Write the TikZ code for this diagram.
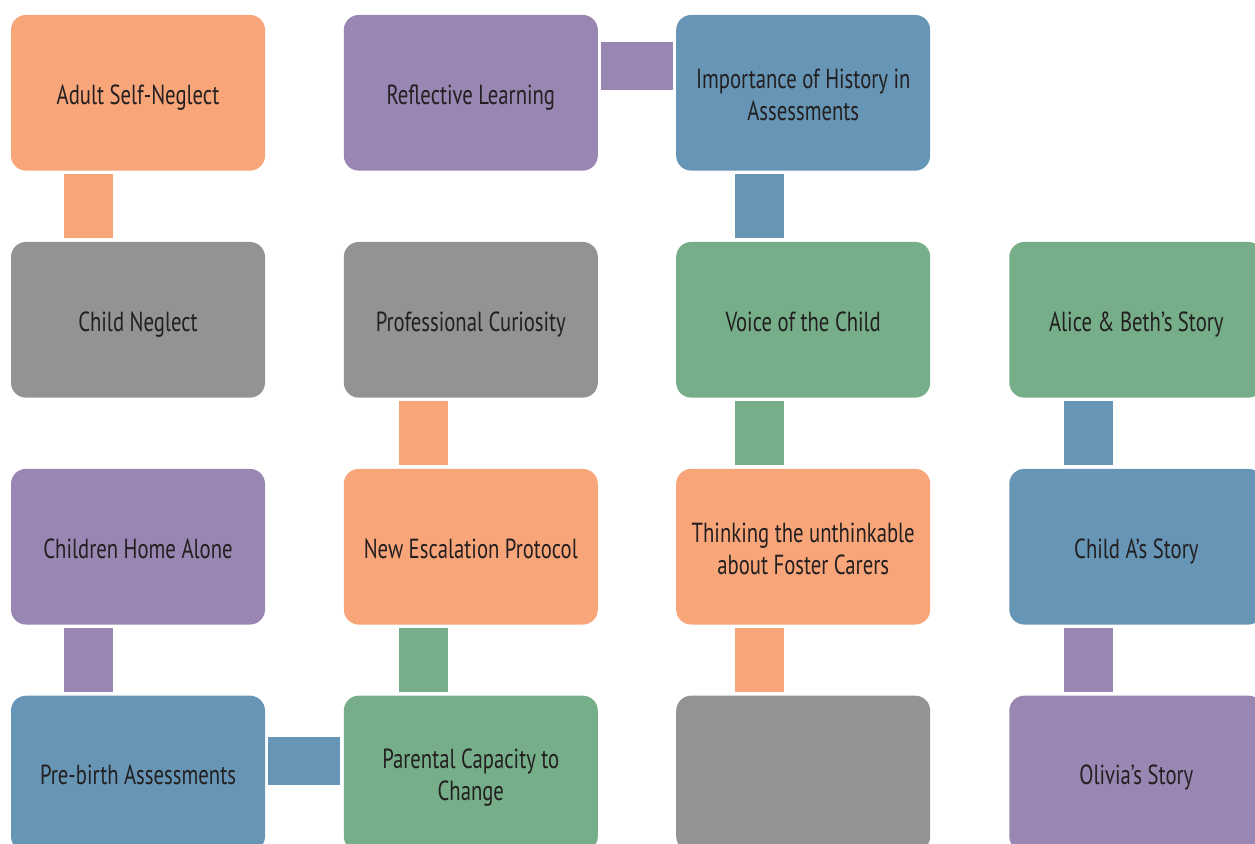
\documentclass[tikz,border=0pt]{standalone}
\usepackage{fontspec}
\setmainfont[FakeStretch=0.75]{PT Sans}
\definecolor{cOrange}{HTML}{F7A579}
\definecolor{cPurple}{HTML}{9A86B2}
\definecolor{cBlue}{HTML}{6695B6}
\definecolor{cGreen}{HTML}{75AE88}
\definecolor{cGray}{HTML}{939393}
\definecolor{cText}{HTML}{231F20}
\newcommand{\bxt}[1]{\raisebox{0pt}[\dimexpr\height+7.5pt\relax][\depth]{\begin{tabular}{@{}c@{}}#1\end{tabular}}}
\tikzset{
  box/.style={rectangle, rounded corners=11.25pt, minimum width=190.5pt, minimum height=116.75pt,
    inner sep=0pt, text=cText, font=\fontsize{20.7}{24}\selectfont},
  vconn/.style={line width=36.75pt},
  hconn/.style={line width=36pt}
}
\begin{document}
\begin{tikzpicture}[x=0.75pt,y=-0.75pt]
\useasboundingbox (0,0) rectangle (1255,843);
\clip (0,0) rectangle (1255,843);
% row 1
\node[box, fill=cOrange] (asn) at (138,92.8) {\bxt{Adult Self-Neglect}};
\node[box, fill=cPurple] (rl) at (470.8,92.8) {\bxt{Reflective Learning}};
\node[box, fill=cBlue] (ih) at (803.2,92.8) {\bxt{Importance of History in\\Assessments}};
% row 2
\node[box, fill=cGray] (cn) at (138,319.8) {\bxt{Child Neglect}};
\node[box, fill=cGray] (pc) at (470.8,319.8) {\bxt{Professional Curiosity}};
\node[box, fill=cGreen] (vc) at (803.2,319.8) {\bxt{Voice of the Child}};
\node[box, fill=cGreen] (ab) at (1136.3,319.8) {\bxt{Alice \& Beth’s Story}};
% row 3
\node[box, fill=cPurple] (cha) at (138,546.7) {\bxt{Children Home Alone}};
\node[box, fill=cOrange] (nep) at (470.8,546.7) {\bxt{New Escalation Protocol}};
\node[box, fill=cOrange] (tu) at (803.2,546.7) {\bxt{Thinking the unthinkable\\about Foster Carers}};
\node[box, fill=cBlue] (ca) at (1136.3,546.7) {\bxt{Child A’s Story}};
% row 4
\node[box, fill=cBlue] (pba) at (138,773.5) {\bxt{Pre-birth Assessments}};
\node[box, fill=cGreen] (pcc) at (470.8,773.5) {\bxt{Parental Capacity to\\Change}};
\node[box, fill=cGray] (blank) at (803.2,773.5) {};
\node[box, fill=cPurple] (os) at (1136.3,773.5) {\bxt{Olivia’s Story}};
% vertical connectors
\draw[vconn, cOrange] ([xshift=-36.9pt,yshift=-2.25pt]asn.south) -- ([xshift=-36.9pt,yshift=2.5pt]cn.north);
\draw[vconn, cPurple] ([xshift=-36.9pt,yshift=-2.25pt]cha.south) -- ([xshift=-36.9pt,yshift=2.5pt]pba.north);
\draw[vconn, cOrange] ([xshift=-35.25pt,yshift=-2.25pt]pc.south) -- ([xshift=-35.25pt,yshift=2.5pt]nep.north);
\draw[vconn, cGreen] ([xshift=-35.25pt,yshift=-2.25pt]nep.south) -- ([xshift=-35.25pt,yshift=2.5pt]pcc.north);
\draw[vconn, cBlue] ([xshift=-33pt,yshift=-2.25pt]ih.south) -- ([xshift=-33pt,yshift=2.5pt]vc.north);
\draw[vconn, cGreen] ([xshift=-33pt,yshift=-2.25pt]vc.south) -- ([xshift=-33pt,yshift=2.5pt]tu.north);
\draw[vconn, cOrange] ([xshift=-33pt,yshift=-2.25pt]tu.south) -- ([xshift=-33pt,yshift=2.5pt]blank.north);
\draw[vconn, cBlue] ([xshift=-35.5pt,yshift=-2.25pt]ab.south) -- ([xshift=-35.5pt,yshift=2.5pt]ca.north);
\draw[vconn, cPurple] ([xshift=-35.5pt,yshift=-2.25pt]ca.south) -- ([xshift=-35.5pt,yshift=2.5pt]os.north);
% horizontal connectors
\draw[hconn, cPurple] ([xshift=2.5pt,yshift=20.25pt]rl.east) -- ([xshift=-2.25pt,yshift=20.25pt]ih.west);
\draw[hconn, cBlue] ([xshift=2.25pt,yshift=9.5pt]pba.east) -- ([xshift=-2.5pt,yshift=9.5pt]pcc.west);
\end{tikzpicture}
\end{document}
